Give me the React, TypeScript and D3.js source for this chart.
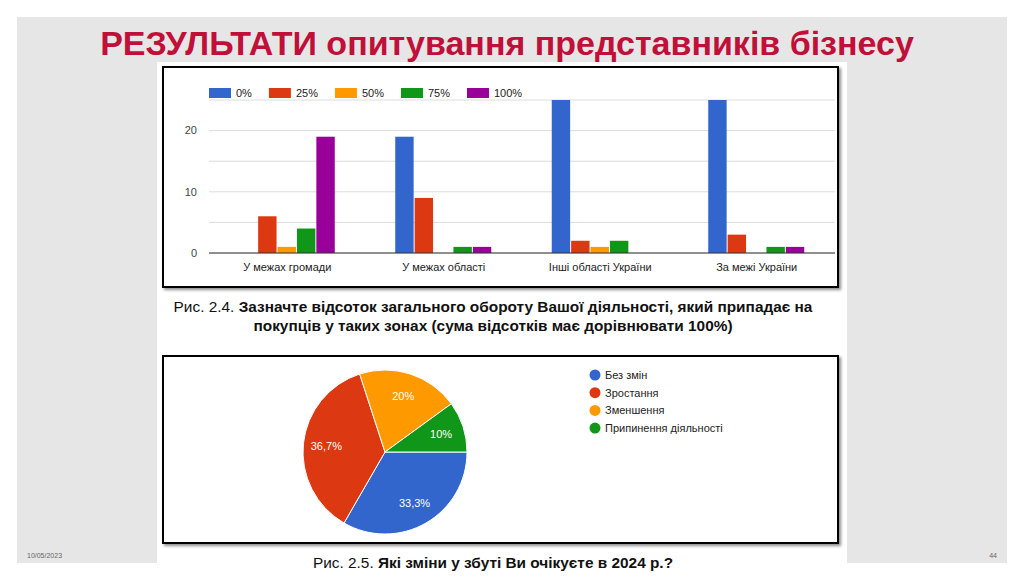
import { useEffect, useRef } from 'react';
import * as d3 from 'd3';

const zones = ['У межах громади', 'У межах області', 'Інші області України', 'За межі України'];
const shareKeys = ['0%', '25%', '50%', '75%', '100%'];
// respondents per share, one row per zone, in the order of shareKeys
const zoneCounts = [
  [0, 6, 1, 4, 19],
  [19, 9, 0, 1, 1],
  [25, 2, 1, 2, 0],
  [25, 3, 0, 1, 1],
];
const barColors = ['#3366cc', '#dc3912', '#ff9900', '#109618', '#990099'];
const yTicks = [0, 10, 20];
const yGrid = [0, 5, 10, 15, 20, 25];

const salesLabels = ['Без змін', 'Зростання', 'Зменшення', 'Припинення діяльності'];
const salesCounts = [10, 11, 6, 3];
const salesPct = ['33,3%', '36,7%', '20%', '10%'];
const pieColors = ['#3366cc', '#dc3912', '#ff9900', '#109618'];

const FONT = "'Liberation Sans', Arial, sans-serif";

const App = () => {
  const ref = useRef<SVGSVGElement | null>(null);

  useEffect(() => {
    if (!ref.current) return;
    const svg = d3.select(ref.current);
    svg.selectAll('*').remove();
    svg.attr('width', 1024).attr('height', 581).style('font-family', FONT);

    const defs = svg.append('defs');
    defs
      .append('filter')
      .attr('id', 'shadow')
      .attr('x', '-5%')
      .attr('y', '-5%')
      .attr('width', '110%')
      .attr('height', '115%')
      .append('feDropShadow')
      .attr('dx', 2)
      .attr('dy', 2)
      .attr('stdDeviation', 1.5)
      .attr('flood-color', '#000')
      .attr('flood-opacity', 0.45);

    // slide
    svg.append('rect').attr('width', 1024).attr('height', 581).attr('fill', '#fff');
    svg.append('rect').attr('x', 17).attr('y', 17).attr('width', 990).attr('height', 546).attr('fill', '#e6e6e6');
    svg.append('rect').attr('x', 157).attr('y', 62).attr('width', 690).attr('height', 519).attr('fill', '#fff');

    svg
      .append('text')
      .attr('x', 507)
      .attr('y', 55)
      .attr('text-anchor', 'middle')
      .attr('font-size', 34)
      .attr('font-weight', 'bold')
      .attr('fill', '#c0103a')
      .text('РЕЗУЛЬТАТИ опитування представників бізнесу');

    svg.append('text').attr('x', 27).attr('y', 558).attr('font-size', 7).attr('fill', '#666').text('10/05/2023');
    svg
      .append('text')
      .attr('x', 997)
      .attr('y', 558)
      .attr('text-anchor', 'end')
      .attr('font-size', 7)
      .attr('fill', '#666')
      .text('44');

    // chart boxes
    [
      { y: 67, h: 220 },
      { y: 356, h: 187 },
    ].forEach((b) => {
      svg
        .append('rect')
        .attr('x', 163)
        .attr('y', b.y)
        .attr('width', 675)
        .attr('height', b.h)
        .attr('fill', '#fff')
        .attr('stroke', '#000')
        .attr('stroke-width', 2)
        .attr('filter', 'url(#shadow)');
    });

    // ---- bar chart
    const x0 = d3.scaleBand().domain(zones).range([209, 835]).paddingInner(0.38).paddingOuter(0.19);
    const x1 = d3.scaleBand().domain(shareKeys).range([0, x0.bandwidth()]);
    const y = d3.scaleLinear().domain([0, 25]).range([253, 100]);
    const color = d3.scaleOrdinal<string>().domain(shareKeys).range(barColors);

    svg
      .append('g')
      .selectAll('line')
      .data(yGrid)
      .join('line')
      .attr('x1', 209)
      .attr('x2', 835)
      .attr('y1', (d) => y(d))
      .attr('y2', (d) => y(d))
      .attr('stroke', '#dcdcdc')
      .attr('stroke-width', 1);

    svg
      .append('g')
      .selectAll('text')
      .data(yTicks)
      .join('text')
      .attr('x', 197)
      .attr('y', (d) => y(d))
      .attr('dy', '0.35em')
      .attr('text-anchor', 'end')
      .attr('font-size', 11)
      .attr('fill', '#444')
      .text((d) => d);

    const groups = svg
      .append('g')
      .selectAll('g')
      .data(zones)
      .join('g')
      .attr('transform', (d) => `translate(${x0(d)},0)`);

    groups
      .selectAll('rect')
      .data((_, i) => zoneCounts[i].map((v, k) => ({ key: shareKeys[k], v })))
      .join('rect')
      .attr('x', (d) => x1(d.key)!)
      .attr('width', x1.bandwidth() - 1)
      .attr('y', (d) => y(d.v))
      .attr('height', (d) => y(0) - y(d.v))
      .attr('fill', (d) => color(d.key));

    svg
      .append('line')
      .attr('x1', 209)
      .attr('x2', 835)
      .attr('y1', y(0))
      .attr('y2', y(0))
      .attr('stroke', '#333')
      .attr('stroke-width', 1);

    svg
      .append('g')
      .selectAll('text')
      .data(zones)
      .join('text')
      .attr('x', (d) => x0(d)! + x0.bandwidth() / 2)
      .attr('y', 271)
      .attr('text-anchor', 'middle')
      .attr('font-size', 11)
      .attr('fill', '#222')
      .text((d) => d);

    // bar legend
    let lx = 209;
    shareKeys.forEach((k) => {
      const g = svg.append('g').attr('transform', `translate(${lx},88)`);
      g.append('rect').attr('width', 22).attr('height', 10).attr('fill', color(k));
      const t = g
        .append('text')
        .attr('x', 27)
        .attr('y', 5)
        .attr('dy', '0.35em')
        .attr('font-size', 11)
        .attr('fill', '#222')
        .text(k);
      lx += 27 + (t.node() as SVGTextElement).getComputedTextLength() + 17;
    });

    // captions
    const caption = (lines: { plain?: string; bold: string; y: number }[]) => {
      lines.forEach((l) => {
        const t = svg
          .append('text')
          .attr('x', 493)
          .attr('y', l.y)
          .attr('text-anchor', 'middle')
          .attr('font-size', 15.4)
          .attr('fill', '#111');
        if (l.plain) t.append('tspan').text(l.plain);
        t.append('tspan').attr('font-weight', 'bold').text(l.bold);
      });
    };
    caption([
      {
        plain: 'Рис. 2.4. ',
        bold: 'Зазначте відсоток загального обороту Вашої діяльності, який припадає на',
        y: 312,
      },
      { bold: 'покупців у таких зонах (сума відсотків має дорівнювати 100%)', y: 331 },
    ]);
    caption([{ plain: 'Рис. 2.5. ', bold: 'Які зміни у збуті Ви очікуєте в 2024 р.?', y: 568 }]);

    // ---- pie
    const pie = d3
      .pie<number>()
      .sort(null)
      .startAngle(Math.PI / 2)
      .endAngle(Math.PI / 2 + 2 * Math.PI);
    const arcs = pie(salesCounts);
    const arc = d3.arc<d3.PieArcDatum<number>>().innerRadius(0).outerRadius(82);
    const labelArc = d3.arc<d3.PieArcDatum<number>>().innerRadius(59).outerRadius(59);
    const pg = svg.append('g').attr('transform', 'translate(385,452)');

    pg.selectAll('path')
      .data(arcs)
      .join('path')
      .attr('d', arc)
      .attr('fill', (_, i) => pieColors[i])
      .attr('stroke', '#fff')
      .attr('stroke-width', 1);

    pg.selectAll('text')
      .data(arcs)
      .join('text')
      .attr('transform', (d) => `translate(${labelArc.centroid(d)})`)
      .attr('text-anchor', 'middle')
      .attr('dy', '0.35em')
      .attr('font-size', 11)
      .attr('fill', '#fff')
      .text((_, i) => salesPct[i]);

    const lg = svg
      .append('g')
      .selectAll('g')
      .data(salesLabels)
      .join('g')
      .attr('transform', (_, i) => `translate(595,${375 + i * 17.7})`);
    lg.append('circle').attr('r', 5.5).attr('fill', (_, i) => pieColors[i]);
    lg.append('text')
      .attr('x', 10)
      .attr('dy', '0.35em')
      .attr('font-size', 11)
      .attr('fill', '#222')
      .text((d) => d);
  }, []);

  return <svg ref={ref} style={{ position: 'absolute', left: 0, top: 0 }} />;
};

export default App;
